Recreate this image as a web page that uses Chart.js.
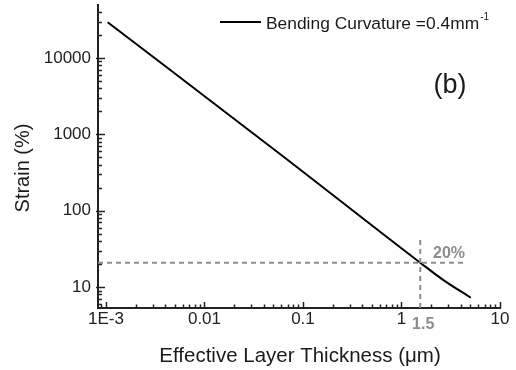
<!DOCTYPE html>
<html>
<head>
<meta charset="utf-8">
<script src="https://cdn.jsdelivr.net/npm/chart.js@4.4.0/dist/chart.umd.min.js"></script>
<style>
html,body{margin:0;padding:0;background:#fff;}
#wrap{width:516px;height:370px;position:relative;}
</style>
</head>
<body>
<div id="wrap"><canvas id="c" width="516" height="370"></canvas></div>
<script>
// ---- data ----
const thickness = [0.00104, 0.0584, 1.55, 2.6, 5.05];   // µm
const strain    = [29400, 553, 20.8, 12.6, 7.24];       // %
const xTickValues = [0.001, 0.01, 0.1, 1, 10];
const xTickLabels = ['1E-3', '0.01', '0.1', '1', '10'];
const yTickValues = [10, 100, 1000, 10000];
const yTickLabels = ['10', '100', '1000', '10000'];
const markX = 1.55, markY = 20.8;        // 1.5 µm -> 20%
const hLineX = [0.00083, 4.4];
const vLineY = [5.31, 43.8];
const seriesLabel = 'Bending Curvature =0.4mm';
const xTitle = 'Effective Layer Thickness (\u03bcm)';
const yTitle = 'Strain (%)';

const X_MIN = 0.00083, X_MAX = 10, Y_MIN = 5.31, Y_MAX = 49400;
const FONT = '"Liberation Sans", Arial, sans-serif';
const GRAY = '#8c8c8c';

const mainData = thickness.map((x, i) => ({x: x, y: strain[i]}));
const hData = hLineX.map(x => ({x: x, y: markY}));
const vData = vLineY.map(y => ({x: markX, y: y}));

function minorValues(min, max) {
  const out = [];
  for (let e = -5; e <= 6; e++) {
    for (let m = 1; m <= 9; m++) {
      const v = m * Math.pow(10, e);
      if (v >= min * 0.999 && v <= max * 1.001) out.push({v: v, major: m === 1});
    }
  }
  return out;
}

const decor = {
  id: 'decor',
  afterDraw(chart) {
    const ctx = chart.ctx;
    const xs = chart.scales.x, ys = chart.scales.y;
    const area = chart.chartArea;
    ctx.save();
    // inward tick marks
    ctx.strokeStyle = '#222';
    ctx.lineWidth = 1.5;
    minorValues(Y_MIN, Y_MAX).forEach(t => {
      const py = Math.round(ys.getPixelForValue(t.v)) + 0.5;
      ctx.beginPath();
      ctx.moveTo(area.left - (t.major ? 2 : 0), py);
      ctx.lineTo(area.left + (t.major ? 7 : 4), py);
      ctx.stroke();
    });
    minorValues(X_MIN, X_MAX).forEach(t => {
      const px = Math.round(xs.getPixelForValue(t.v)) + 0.5;
      ctx.beginPath();
      ctx.moveTo(px, area.bottom);
      ctx.lineTo(px, area.bottom - (t.major ? 6 : 3.5));
      ctx.stroke();
    });
    // axis titles
    ctx.fillStyle = '#1a1a1a';
    ctx.font = '20.5px ' + FONT;
    ctx.textAlign = 'center';
    ctx.textBaseline = 'alphabetic';
    ctx.fillText(xTitle, 300, 362);
    ctx.save();
    ctx.translate(29, 168);
    ctx.rotate(-Math.PI / 2);
    ctx.font = '20px ' + FONT;
    ctx.fillText(yTitle, 0, 0);
    ctx.restore();
    // legend
    ctx.strokeStyle = '#000';
    ctx.lineWidth = 2;
    ctx.beginPath();
    ctx.moveTo(220, 22);
    ctx.lineTo(261, 22);
    ctx.stroke();
    ctx.textAlign = 'left';
    ctx.font = '17.4px ' + FONT;
    ctx.fillText(seriesLabel, 266, 29);
    const w = ctx.measureText(seriesLabel).width;
    ctx.font = '10px ' + FONT;
    ctx.fillText('-1', 266 + w + 1, 20);
    // panel label
    ctx.font = '27px ' + FONT;
    ctx.textAlign = 'center';
    ctx.fillText('(b)', 450, 93);
    // gray annotations
    ctx.fillStyle = GRAY;
    ctx.font = 'bold 16px ' + FONT;
    ctx.fillText('20%', 449, 258);
    ctx.fillText('1.5', xs.getPixelForValue(markX) + 3, 329);
    ctx.restore();
  }
};

new Chart(document.getElementById('c'), {
  type: 'scatter',
  data: {
    datasets: [
      {data: hData, showLine: true, borderColor: GRAY, borderWidth: 2, borderDash: [5, 4], pointRadius: 0, fill: false},
      {data: vData, showLine: true, borderColor: GRAY, borderWidth: 2, borderDash: [5, 4], pointRadius: 0, fill: false},
      {data: mainData, showLine: true, borderColor: '#000', borderWidth: 2, pointRadius: 0, fill: false, cubicInterpolationMode: 'monotone'}
    ]
  },
  options: {
    responsive: false,
    animation: false,
    devicePixelRatio: 1,
    layout: {padding: {top: 5, right: 16, bottom: 0, left: 0}},
    plugins: {legend: {display: false}, tooltip: {enabled: false}},
    scales: {
      x: {
        type: 'logarithmic', min: X_MIN, max: X_MAX,
        afterFit: s => { s.height = 62; s.paddingLeft = 0; s.paddingRight = 0; },
        afterBuildTicks: s => { s.ticks = xTickValues.map(v => ({value: v})); },
        grid: {display: false, drawTicks: false},
        border: {display: true, color: '#222', width: 2},
        ticks: {
          autoSkip: false, maxRotation: 0, padding: 1, color: '#222',
          font: {family: FONT, size: 17},
          callback: (v) => { const i = xTickValues.indexOf(v); return i >= 0 ? xTickLabels[i] : ''; }
        }
      },
      y: {
        type: 'logarithmic', min: Y_MIN, max: Y_MAX,
        afterFit: s => { s.width = 98; s.paddingTop = 0; s.paddingBottom = 0; },
        afterBuildTicks: s => { s.ticks = yTickValues.map(v => ({value: v})); },
        grid: {display: false, drawTicks: false},
        border: {display: true, color: '#222', width: 2},
        ticks: {
          autoSkip: false, padding: 7, color: '#222',
          font: {family: FONT, size: 17},
          callback: (v) => { const i = yTickValues.indexOf(v); return i >= 0 ? yTickLabels[i] : ''; }
        }
      }
    }
  },
  plugins: [decor]
});
</script>
</body>
</html>
